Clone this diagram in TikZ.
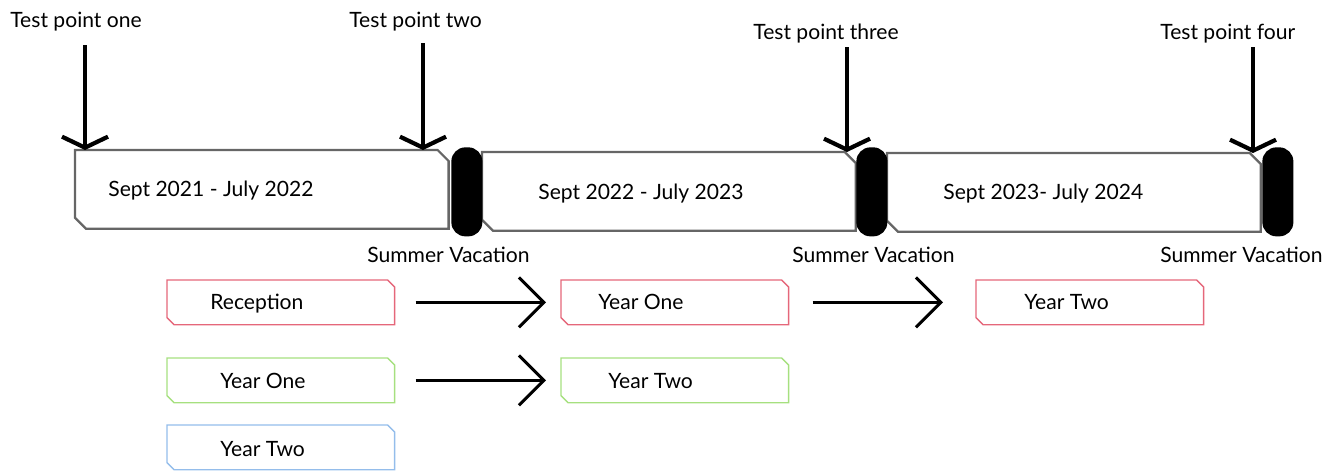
\documentclass[tikz,border=0pt]{standalone}
\usepackage{fontspec}
\setmainfont{Lato}
\usetikzlibrary{arrows.meta,positioning}

\definecolor{recred}{RGB}{229,103,122}
\definecolor{onegreen}{RGB}{166,224,127}
\definecolor{twoblue}{RGB}{148,189,235}

% outline with cut north east and south west corners
\newcommand{\cutbox}[3]{%
  \draw[#3] (#1.north west) -- ([xshift=-#2]#1.north east) -- ([yshift=-#2]#1.north east)
    -- (#1.south east) -- ([xshift=#2]#1.south west) -- ([yshift=#2]#1.south west) -- cycle;}

\tikzset{
  term/.style={rectangle, minimum width=7.46cm, minimum height=1.56cm,
    anchor=north west, inner sep=0pt},
  termline/.style={draw=black!60, line width=1.3pt, fill=white},
  holiday/.style={rectangle, rounded corners=0.28cm, fill=black,
    minimum width=0.62cm, minimum height=1.78cm, anchor=north west, inner sep=0pt},
  yearbox/.style={rectangle, minimum width=4.54cm, minimum height=0.88cm,
    anchor=north west, inner sep=0pt},
  lbl/.style={anchor=base west, inner sep=0pt},
  testarrow/.style={-{Straight Barb[length=0.22cm,width=0.92cm]}, line width=2.4pt},
  movearrow/.style={-{Straight Barb[length=0.5cm,width=1cm]}, line width=1.7pt,
    shorten <=0.42cm, shorten >=0.3cm}
}

\begin{document}
\begin{tikzpicture}[x=0.02cm, y=-0.02cm, font=\fontsize{12}{14}\selectfont]
  \useasboundingbox (0,0) rectangle (1337,471);

  % school years
  \node[term] (y1) at (75,150) {};
  \node[term] (y2) at (482,152) {};
  \node[term] (y3) at (887,153) {};
  \cutbox{y1}{0.22cm}{termline}
  \cutbox{y2}{0.22cm}{termline}
  \cutbox{y3}{0.22cm}{termline}
  \node[lbl] (y1t) at (108,196) {Sept 2021 - July 2022};
  \node[lbl] (y2t) at (538,199) {Sept 2022 - July 2023};
  \node[lbl] (y3t) at (943,199) {Sept 2023- July 2024};

  % summer holidays
  \node[holiday] (h1) at (451,147) {};
  \node[holiday] (h2) at (856,147) {};
  \node[holiday] (h3) at (1262,147) {};
  \node[lbl] (h1t) at (367,262) {Summer Vacation};
  \node[lbl] (h2t) at (792,262) {Summer Vacation};
  \node[lbl] (h3t) at (1160,262) {Summer Vacation};

  % test points
  \node[lbl] (tp1) at (10,27) {Test point one};
  \node[lbl] (tp2) at (349,27) {Test point two};
  \node[lbl] (tp3) at (753,39) {Test point three};
  \node[lbl] (tp4) at (1160,39) {Test point four};
  \coordinate (a1) at (85,45);
  \coordinate (a2) at (423,43);
  \coordinate (a3) at (847,47);
  \coordinate (a4) at (1253,47);
  \draw[testarrow] (a1) -- (a1 |- y1.north);
  \draw[testarrow] (a2) -- (a2 |- y1.north);
  \draw[testarrow] (a3) -- (a3 |- y2.north);
  \draw[testarrow] (a4) -- (a4 |- y3.north);

  % classes
  \node[yearbox] (r1) at (167,280) {};
  \node[yearbox] (r2) at (561,280) {};
  \node[yearbox] (r3) at (976,280) {};
  \node[yearbox] (g1) at (167,358) {};
  \node[yearbox] (g2) at (561,358) {};
  \node[yearbox] (b1) at (167,425) {};
  \cutbox{r1}{0.14cm}{recred, line width=0.8pt}
  \cutbox{r2}{0.14cm}{recred, line width=0.8pt}
  \cutbox{r3}{0.14cm}{recred, line width=0.8pt}
  \cutbox{g1}{0.14cm}{onegreen, line width=0.8pt}
  \cutbox{g2}{0.14cm}{onegreen, line width=0.8pt}
  \cutbox{b1}{0.14cm}{twoblue, line width=0.8pt}
  \node[lbl] (r1t) at (210,309) {Reception};
  \node[lbl] (r2t) at (598,309) {Year One};
  \node[lbl] (r3t) at (1024,309) {Year Two};
  \node[lbl] (g1t) at (220,388) {Year One};
  \node[lbl] (g2t) at (608,388) {Year Two};
  \node[lbl] (b1t) at (220,456) {Year Two};

  \draw[movearrow] (r1) -- (r2);
  \draw[movearrow, shorten <=0.48cm, shorten >=0.66cm] (r2) -- (r3);
  \draw[movearrow] (g1) -- (g2);
\end{tikzpicture}
\end{document}
